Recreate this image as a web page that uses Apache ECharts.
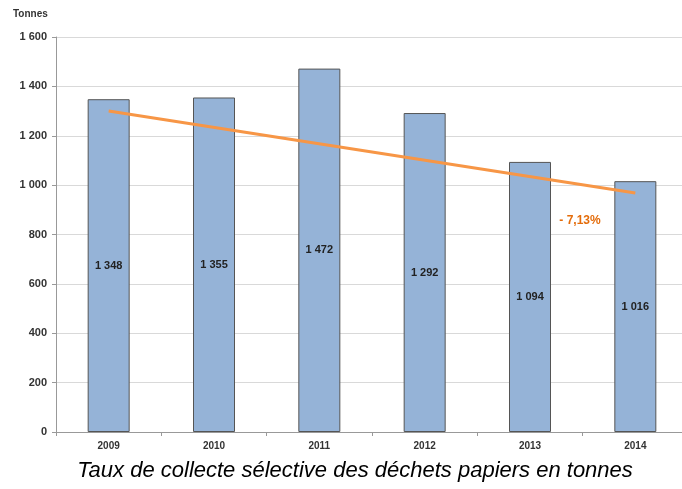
<!DOCTYPE html>
<html>
<head>
<meta charset="utf-8">
<script src="https://cdn.jsdelivr.net/npm/echarts@6/dist/echarts.min.js"></script>
<style>
  html, body { margin: 0; padding: 0; background: #fff; overflow: hidden; }
  #chart { width: 692px; height: 489px; }
</style>
</head>
<body>
<div id="chart"></div>
<script>
var years = ['2009', '2010', '2011', '2012', '2013', '2014'];
var tonnes = [1348, 1355, 1472, 1292, 1094, 1016];
var trendStart = ['2009', 1300];
var trendEnd = ['2014', 968];
var trendLabel = '- 7,13%';

function fmt(v) {
  // espace comme séparateur de milliers
  return String(v).replace(/\B(?=(\d{3})+(?!\d))/g, ' ');
}

var chart = echarts.init(document.getElementById('chart'));
var option = {
  animation: false,
  grid: { left: 56, top: 37, right: 4, bottom: 57, containLabel: false },
  title: {
    text: 'Taux de collecte sélective des déchets papiers en tonnes',
    left: 350, textAlign: 'center', bottom: 2,
    textStyle: { fontFamily: 'Liberation Sans Narrow, Liberation Sans, Arial', fontStyle: 'italic', fontWeight: 'normal', fontSize: 22, color: '#000' }
  },
  graphic: [{
    type: 'text', left: 13, top: 9,
    style: { text: 'Tonnes', font: 'bold 10px Liberation Sans, Arial', fill: '#333' }
  }],
  xAxis: {
    type: 'category',
    data: years,
    axisLine: { lineStyle: { color: '#999' } },
    axisTick: { show: true, length: 4, lineStyle: { color: '#999' } },
    axisLabel: { fontFamily: 'Liberation Sans, Arial', fontWeight: 'bold', fontSize: 10, color: '#333', margin: 9 }
  },
  yAxis: {
    type: 'value',
    min: 0, max: 1600, interval: 200,
    axisLine: { show: true, lineStyle: { color: '#999' } },
    axisTick: { show: true, length: 4, lineStyle: { color: '#999' } },
    axisLabel: { fontFamily: 'Liberation Sans, Arial', fontWeight: 'bold', fontSize: 11, color: '#333', margin: 9, formatter: fmt },
    splitLine: { lineStyle: { color: '#d9d9d9' } }
  },
  series: [{
    type: 'bar',
    data: tonnes,
    barWidth: 42,
    itemStyle: { color: '#95b3d7', borderColor: '#555', borderWidth: 1 },
    label: {
      show: true, position: 'inside',
      fontFamily: 'Liberation Sans, Arial', fontWeight: 'bold', fontSize: 11, color: '#222',
      formatter: function (p) { return fmt(p.value); }
    },
    z: 2
  }, {
    type: 'line',
    data: [trendStart, trendEnd],
    symbol: 'none',
    lineStyle: { color: '#f79646', width: 3 },
    endLabel: {
      show: true, formatter: trendLabel,
      offset: [-84, 28],
      fontFamily: 'Liberation Sans, Arial', fontWeight: 'bold', fontSize: 12, color: '#e46c0a'
    },
    z: 3
  }]
};
chart.setOption(option);
</script>
</body>
</html>
